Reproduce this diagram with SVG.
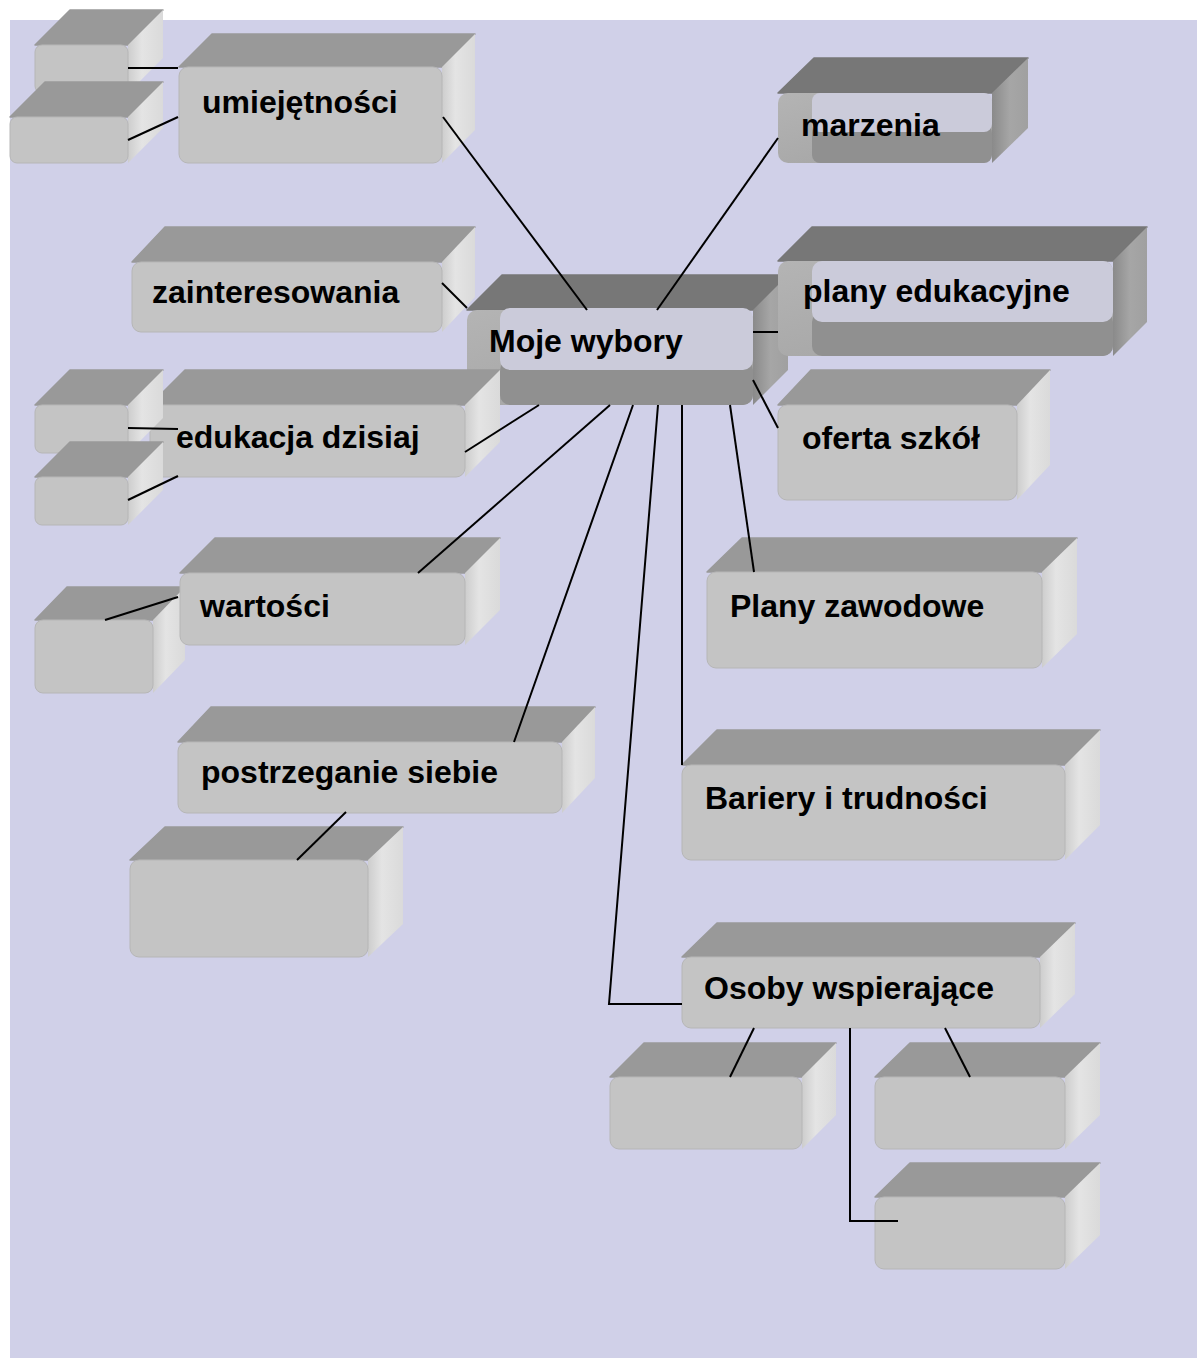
<svg xmlns="http://www.w3.org/2000/svg" width="1197" height="1358" viewBox="0 0 1197 1358">
<defs>
<linearGradient id="sideG" x1="0" y1="0" x2="1" y2="0">
<stop offset="0" stop-color="#CDCDCD"/>
<stop offset="0.4" stop-color="#E4E4E4"/>
<stop offset="1" stop-color="#DADADA"/>
</linearGradient>
<linearGradient id="sideS" x1="0" y1="0" x2="1" y2="0">
<stop offset="0" stop-color="#8A8A8A"/>
<stop offset="0.5" stop-color="#A6A6A6"/>
<stop offset="1" stop-color="#A0A0A0"/>
</linearGradient>
<linearGradient id="stripS" x1="0" y1="0" x2="1" y2="1">
<stop offset="0" stop-color="#B4B4B4"/>
<stop offset="1" stop-color="#A0A0A0"/>
</linearGradient>
</defs>
<style>
.top{fill:#999999;stroke:#999999;stroke-width:1.5;stroke-linejoin:round}
.side{fill:url(#sideG)}
.front{fill:#C4C4C4;stroke:#B6B6B6;stroke-width:1}
.stop{fill:#777777;stroke:#777777;stroke-width:1.5;stroke-linejoin:round}
.sside{fill:url(#sideS)}
.sbase{fill:url(#stripS)}
.sin{fill:#CBCBDA}
.sband{fill:#909090}
.lbl{font-family:"Liberation Sans",Arial,sans-serif;font-weight:bold;font-size:32px;fill:#000000}
.conn{stroke:#000000;stroke-width:2;fill:none}
</style>
<rect x="10" y="20" width="1187" height="1338" fill="#D0D0E8"/>
<g id="nodes">
<g id="small1">
<polygon class="top" points="35,45 70,10 163,10 128,45"/>
<polygon class="side" points="128,45 163,10 163,58 128,93"/>
<rect class="front" x="35" y="45" width="93" height="48" rx="7"/>
</g>
<g id="small2">
<polygon class="top" points="10,117 45,82 163,82 128,117"/>
<polygon class="side" points="128,117 163,82 163,128 128,163"/>
<rect class="front" x="10" y="117" width="118" height="46" rx="7"/>
</g>
<g id="umiejetnosci">
<polygon class="top" points="179,67 212,34 475,34 442,67"/>
<polygon class="side" points="442,67 475,34 475,130 442,163"/>
<rect class="front" x="179" y="67" width="263" height="96" rx="9"/>
<text class="lbl" x="202" y="113">umiejętności</text>
</g>
<g id="zainteresowania">
<polygon class="top" points="132,262 165,227 475,227 442,262"/>
<polygon class="side" points="442,262 475,227 475,297 442,332"/>
<rect class="front" x="132" y="262" width="310" height="70" rx="9"/>
<text class="lbl" x="152" y="303">zainteresowania</text>
</g>
<g id="moje-wybory">
<polygon class="stop" points="467,310 502,275 788,275 753,310"/>
<polygon class="sside" points="753,310 788,275 788,370 753,405"/>
<rect class="sbase" x="467" y="310" width="286" height="95" rx="10"/>
<rect class="sband" x="500" y="360" width="253" height="45" rx="10"/>
<rect class="sin" x="500" y="308" width="253" height="62" rx="10"/>
<text class="lbl" x="489" y="352">Moje wybory</text>
</g>
<g id="marzenia">
<polygon class="stop" points="778,93 814,58 1028,58 992,93"/>
<polygon class="sside" points="992,93 1028,58 1028,128 992,163"/>
<rect class="sbase" x="778" y="93" width="214" height="70" rx="10"/>
<rect class="sband" x="812" y="125" width="180" height="38" rx="8"/>
<rect class="sin" x="812" y="93" width="180" height="39" rx="8"/>
<text class="lbl" x="801" y="136">marzenia</text>
</g>
<g id="plany-edukacyjne">
<polygon class="stop" points="778,261 812,227 1147,227 1113,261"/>
<polygon class="sside" points="1113,261 1147,227 1147,322 1113,356"/>
<rect class="sbase" x="778" y="261" width="335" height="95" rx="10"/>
<rect class="sband" x="812" y="312" width="301" height="44" rx="10"/>
<rect class="sin" x="812" y="261" width="301" height="61" rx="10"/>
<text class="lbl" x="803" y="302">plany edukacyjne</text>
</g>
<g id="edukacja-dzisiaj">
<polygon class="top" points="150,405 185,370 500,370 465,405"/>
<polygon class="side" points="465,405 500,370 500,442 465,477"/>
<rect class="front" x="150" y="405" width="315" height="72" rx="9"/>
<text class="lbl" x="176" y="448">edukacja dzisiaj</text>
</g>
<g id="small3">
<polygon class="top" points="35,405 70,370 163,370 128,405"/>
<polygon class="side" points="128,405 163,370 163,418 128,453"/>
<rect class="front" x="35" y="405" width="93" height="48" rx="7"/>
</g>
<g id="small4">
<polygon class="top" points="35,477 70,442 163,442 128,477"/>
<polygon class="side" points="128,477 163,442 163,490 128,525"/>
<rect class="front" x="35" y="477" width="93" height="48" rx="7"/>
</g>
<g id="oferta-szkol">
<polygon class="top" points="778,405 811,370 1050,370 1017,405"/>
<polygon class="side" points="1017,405 1050,370 1050,465 1017,500"/>
<rect class="front" x="778" y="405" width="239" height="95" rx="9"/>
<text class="lbl" x="802" y="449">oferta szkół</text>
</g>
<g id="small5">
<polygon class="top" points="35,620 67,587 185,587 153,620"/>
<polygon class="side" points="153,620 185,587 185,660 153,693"/>
<rect class="front" x="35" y="620" width="118" height="73" rx="8"/>
</g>
<g id="wartosci">
<polygon class="top" points="180,573 215,538 500,538 465,573"/>
<polygon class="side" points="465,573 500,538 500,610 465,645"/>
<rect class="front" x="180" y="573" width="285" height="72" rx="9"/>
<text class="lbl" x="200" y="617">wartości</text>
</g>
<g id="postrzeganie-siebie">
<polygon class="top" points="178,742 211,707 595,707 562,742"/>
<polygon class="side" points="562,742 595,707 595,778 562,813"/>
<rect class="front" x="178" y="742" width="384" height="71" rx="9"/>
<text class="lbl" x="201" y="783">postrzeganie siebie</text>
</g>
<g id="small6">
<polygon class="top" points="130,860 165,827 403,827 368,860"/>
<polygon class="side" points="368,860 403,827 403,924 368,957"/>
<rect class="front" x="130" y="860" width="238" height="97" rx="9"/>
</g>
<g id="plany-zawodowe">
<polygon class="top" points="707,572 742,538 1077,538 1042,572"/>
<polygon class="side" points="1042,572 1077,538 1077,634 1042,668"/>
<rect class="front" x="707" y="572" width="335" height="96" rx="9"/>
<text class="lbl" x="730" y="617">Plany zawodowe</text>
</g>
<g id="bariery">
<polygon class="top" points="682,765 717,730 1100,730 1065,765"/>
<polygon class="side" points="1065,765 1100,730 1100,825 1065,860"/>
<rect class="front" x="682" y="765" width="383" height="95" rx="9"/>
<text class="lbl" x="705" y="809">Bariery i trudności</text>
</g>
<g id="osoby-wspierajace">
<polygon class="top" points="682,957 717,923 1075,923 1040,957"/>
<polygon class="side" points="1040,957 1075,923 1075,994 1040,1028"/>
<rect class="front" x="682" y="957" width="358" height="71" rx="9"/>
<text class="lbl" x="704" y="999">Osoby wspierające</text>
</g>
<g id="sub-a">
<polygon class="top" points="610,1077 644,1043 836,1043 802,1077"/>
<polygon class="side" points="802,1077 836,1043 836,1115 802,1149"/>
<rect class="front" x="610" y="1077" width="192" height="72" rx="9"/>
</g>
<g id="sub-b">
<polygon class="top" points="875,1077 910,1043 1100,1043 1065,1077"/>
<polygon class="side" points="1065,1077 1100,1043 1100,1115 1065,1149"/>
<rect class="front" x="875" y="1077" width="190" height="72" rx="9"/>
</g>
<g id="sub-c">
<polygon class="top" points="875,1197 910,1163 1100,1163 1065,1197"/>
<polygon class="side" points="1065,1197 1100,1163 1100,1235 1065,1269"/>
<rect class="front" x="875" y="1197" width="190" height="72" rx="9"/>
</g>
</g>
<g id="connectors">
<line class="conn" x1="128" y1="68" x2="178" y2="68"/>
<line class="conn" x1="128" y1="140" x2="178" y2="117"/>
<line class="conn" x1="443" y1="117" x2="587" y2="310"/>
<line class="conn" x1="778" y1="138" x2="657" y2="310"/>
<line class="conn" x1="442" y1="283" x2="467" y2="308"/>
<line class="conn" x1="753" y1="332" x2="778" y2="332"/>
<line class="conn" x1="753" y1="380" x2="778" y2="428"/>
<line class="conn" x1="465" y1="452" x2="539" y2="405"/>
<line class="conn" x1="128" y1="428" x2="178" y2="429"/>
<line class="conn" x1="128" y1="500" x2="178" y2="476"/>
<line class="conn" x1="610" y1="405" x2="418" y2="573"/>
<line class="conn" x1="105" y1="620" x2="178" y2="597"/>
<line class="conn" x1="633" y1="405" x2="514" y2="742"/>
<line class="conn" x1="297" y1="860" x2="346" y2="812"/>
<polyline class="conn" points="658,405 609,1004 682,1004"/>
<line class="conn" x1="682" y1="405" x2="682" y2="765"/>
<line class="conn" x1="730" y1="405" x2="754" y2="572"/>
<line class="conn" x1="754" y1="1028" x2="730" y2="1077"/>
<line class="conn" x1="945" y1="1028" x2="970" y2="1077"/>
<polyline class="conn" points="850,1028 850,1221 898,1221"/>
</g>
</svg>
